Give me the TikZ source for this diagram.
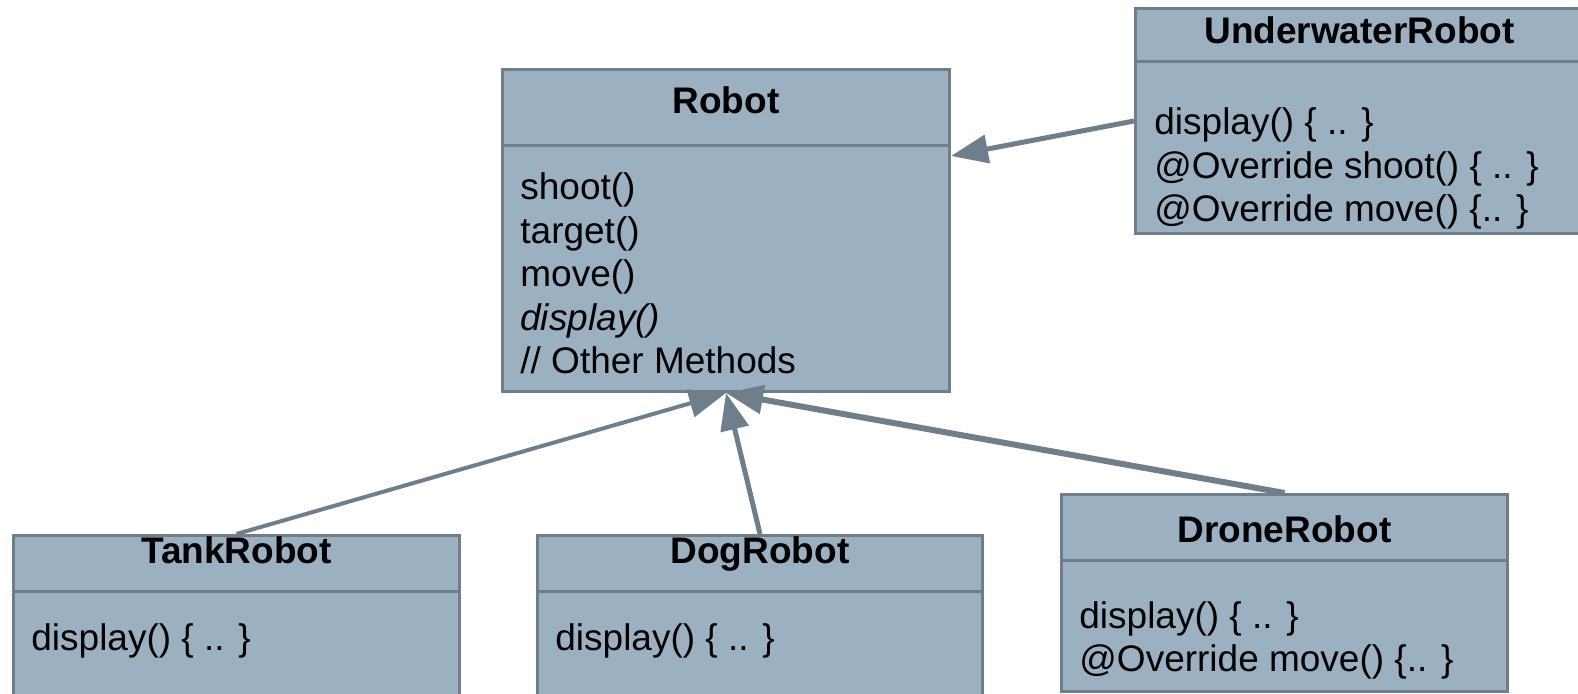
\documentclass[tikz,border=0pt]{standalone}
\usepackage{fontspec}
\setmainfont{Liberation Sans}
\usetikzlibrary{arrows.meta,positioning,calc}

\definecolor{classfill}{RGB}{155,177,193}
\definecolor{classline}{RGB}{110,127,139}
\newcommand\umlfont{\fontsize{18.5pt}{21.75pt}\selectfont}

\tikzset{
  class/.style={draw=classline, fill=classfill, line width=1.5pt, inner sep=0pt, anchor=north west},
  classname/.style={font=\umlfont\bfseries, anchor=base},
  % multi-line nodes sit on the baseline of their last line
  members/.style={font=\umlfont, align=left, anchor=base west, inner sep=0pt},
  divider/.style={draw=classline, line width=1.5pt},
  extends/.style={draw=classline, -{Triangle[length=18.5pt,width=14pt]}},
}

\begin{document}
\begin{tikzpicture}[x=0.5pt, y=-0.5pt]
  \useasboundingbox (0,0) rectangle (1578,694);

  % base class
  \node[class, minimum width=223.5pt, minimum height=161pt] (robot) at (501,68) {};
  \node[classname] (robotname) at ([yshift=-23pt]robot.north) {Robot};
  \draw[divider] ([yshift=-39pt]robot.north west) -- ([yshift=-39pt]robot.north east);
  \node[members] (robotops) at ([xshift=9.5pt,yshift=-153pt]robot.north west)
    {shoot()\\target()\\move()\\\textit{display()}\\// Other Methods};

  % subclasses
  \node[class, minimum width=224pt, minimum height=112.5pt] (uw) at (1134,7) {};
  \node[classname] (uwname) at ([yshift=-18.5pt]uw.north) {UnderwaterRobot};
  \draw[divider] ([yshift=-27.5pt]uw.north west) -- ([yshift=-27.5pt]uw.north east);
  \node[members] (uwops) at ([xshift=10pt,yshift=-107.5pt]uw.north west)
    {display() \{ .. \}\\@Override shoot() \{ .. \}\\@Override move() \{.. \}};

  \node[class, minimum width=223pt, minimum height=83pt] (tank) at (12,534) {};
  \node[classname] (tankname) at ([yshift=-14.5pt]tank.north) {TankRobot};
  \draw[divider] ([yshift=-28.5pt]tank.north west) -- ([yshift=-28.5pt]tank.north east);
  \node[members] (tankops) at ([xshift=9.5pt,yshift=-58pt]tank.north west) {display() \{ .. \}};

  \node[class, minimum width=222.5pt, minimum height=83pt] (dog) at (536,534) {};
  \node[classname] (dogname) at ([yshift=-14.5pt]dog.north) {DogRobot};
  \draw[divider] ([yshift=-28.5pt]dog.north west) -- ([yshift=-28.5pt]dog.north east);
  \node[members] (dogops) at ([xshift=9.5pt,yshift=-58pt]dog.north west) {display() \{ .. \}};

  \node[class, minimum width=223pt, minimum height=98.5pt] (drone) at (1060,493) {};
  \node[classname] (dronename) at ([yshift=-24.5pt]drone.north) {DroneRobot};
  \draw[divider] ([yshift=-33.5pt]drone.north west) -- ([yshift=-33.5pt]drone.north east);
  \node[members] (droneops) at ([xshift=9.5pt,yshift=-89.25pt]drone.north west)
    {display() \{ .. \}\\@Override move() \{.. \}};

  % inheritance arrows
  \draw[extends, line width=2.5pt] (uw.west) -- ([yshift=-44pt]robot.north east);
  \draw[extends, line width=2pt] (tank.north) -- (robot.south);
  \draw[extends, line width=2.5pt] (dog.north) -- (robot.south);
  \draw[extends, line width=3pt] (drone.north) -- (robot.south);
\end{tikzpicture}
\end{document}
